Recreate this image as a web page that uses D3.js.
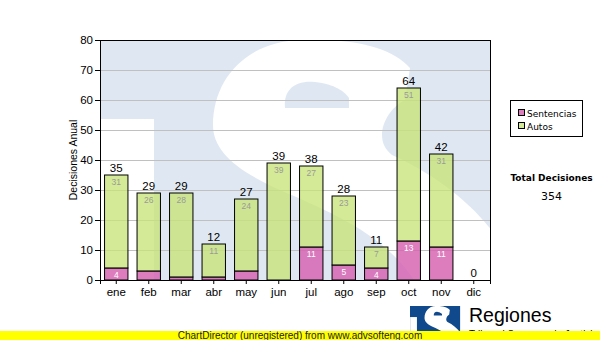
<!DOCTYPE html>
<html><head><meta charset="utf-8">
<script src="https://cdn.jsdelivr.net/npm/d3@7"></script>
<style>body{margin:0;background:#fff;}svg{display:block;}</style>
</head><body>
<svg id="chart" width="600" height="340"></svg>
<script>
const months = ["ene","feb","mar","abr","may","jun","jul","ago","sep","oct","nov","dic"];
const sentencias = [4,3,1,1,3,0,11,5,4,13,11,0];
const autos = [31,26,28,11,24,39,27,23,7,51,31,0];
const yTicks = [0,10,20,30,40,50,60,70,80];
const seriesNames = ["Sentencias","Autos"];
const seriesColors = ["rgba(214,96,176,0.82)","rgba(200,228,120,0.78)"];
const totalLabel = "Total Decisiones";

const svg = d3.select("#chart");
const P = {l:100, r:490, t:40, b:280};

const x = d3.scaleBand().domain(months).range([P.l,P.r]).paddingInner(0.28).paddingOuter(0.14);
const y = d3.scaleLinear().domain([0,80]).range([P.b,P.t]);

// watermark logo shape (defined in plot frame)
const sPath = "M 410 68 C 390 45 345 38 300 40 C 245 42 213 80 213 125 C 213 150 235 170 280 190 C 330 212 390 235 420 290 L 495 290 L 495 235 C 470 200 430 172 392 155 C 372 140 385 110 405 100 Z";
const counterPath = "M 285 108 C 283 90 295 80 315 82 C 335 84 345 92 349 98 L 349 108 Z";
function drawLogo(g, bg, fg) {
  g.append("rect").attr("x",P.l).attr("y",P.t).attr("width",P.r-P.l).attr("height",P.b-P.t).attr("fill",bg);
  g.append("rect").attr("x",101).attr("y",119).attr("width",53).attr("height",P.b-119).attr("fill",fg);
  g.append("path").attr("d",sPath).attr("fill",fg);
  g.append("path").attr("d",counterPath).attr("fill",bg);
}
svg.append("clipPath").attr("id","pc").append("rect").attr("x",P.l).attr("y",P.t).attr("width",P.r-P.l).attr("height",P.b-P.t);
const wm = svg.append("g").attr("clip-path","url(#pc)");
drawLogo(wm, "#dfe8f2", "#ffffff");

// gridlines
svg.append("g").selectAll("line").data(yTicks.filter(v=>v>0&&v<80)).join("line")
  .attr("x1",P.l).attr("x2",P.r).attr("y1",d=>y(d)).attr("y2",d=>y(d))
  .attr("stroke","#c0c0c0").attr("stroke-width",1).attr("shape-rendering","crispEdges");

// bars
const data = months.map((m,i)=>({m, s:sentencias[i], a:autos[i], t:sentencias[i]+autos[i]}));
const bars = svg.append("g");
data.forEach(d=>{
  const bx = x(d.m), bw = x.bandwidth();
  if (d.s>0) bars.append("rect").attr("x",bx).attr("y",y(d.s)).attr("width",bw).attr("height",y(0)-y(d.s))
    .attr("fill",seriesColors[0]).attr("stroke","#000").attr("stroke-width",1);
  if (d.a>0) bars.append("rect").attr("x",bx).attr("y",y(d.t)).attr("width",bw).attr("height",y(d.s)-y(d.t))
    .attr("fill",seriesColors[1]).attr("stroke","#000").attr("stroke-width",1);
});
// inner labels
const lab = svg.append("g").attr("font-family","Liberation Sans, Arial, sans-serif").attr("text-anchor","middle");
data.forEach(d=>{
  const cx = x(d.m)+x.bandwidth()/2;
  if (d.a>0) lab.append("text").attr("x",cx).attr("y",y(d.t)+10).attr("font-size",8.5).attr("fill","#9a9a9a").text(d.a);
  if (d.s>=4) lab.append("text").attr("x",cx).attr("y",y(d.s)+10).attr("font-size",8.5).attr("fill","#ffffff").text(d.s);
  lab.append("text").attr("x",cx).attr("y",y(d.t)-3).attr("font-size",11.5).attr("fill","#000").text(d.t);
});

// plot border
svg.append("rect").attr("x",P.l).attr("y",P.t).attr("width",P.r-P.l).attr("height",P.b-P.t)
  .attr("fill","none").attr("stroke","#000").attr("stroke-width",1).attr("shape-rendering","crispEdges");

// axes
const yAxis = svg.append("g").attr("transform",`translate(${P.l},0)`)
  .call(d3.axisLeft(y).tickValues(yTicks).tickSize(5).tickPadding(2));
const xAxis = svg.append("g").attr("transform",`translate(0,${P.b})`)
  .call(d3.axisBottom(x).tickSize(4).tickPadding(4));
[yAxis,xAxis].forEach(a=>{
  a.selectAll("text").attr("font-family","Liberation Sans, Arial, sans-serif").attr("font-size",11.5).attr("fill","#000");
  a.select(".domain").attr("stroke","#000");
  a.selectAll(".tick line").attr("stroke","#000");
});

svg.append("text").attr("transform","translate(77,160) rotate(-90)").attr("text-anchor","middle")
  .attr("font-family","Liberation Sans, Arial, sans-serif").attr("font-size",10.5).text("Decisiones Anual");

// legend
const lg = svg.append("g");
lg.append("rect").attr("x",510.5).attr("y",100.5).attr("width",72).attr("height",36).attr("fill","#fff").attr("stroke","#000");
seriesNames.forEach((n,i)=>{
  const yy = 109 + i*13;
  lg.append("rect").attr("x",518.5).attr("y",yy+0.5).attr("width",6).attr("height",6).attr("fill",seriesColors[i]).attr("stroke","#000");
  lg.append("text").attr("x",527).attr("y",yy+7.5).attr("font-family","DejaVu Sans, sans-serif").attr("font-size",9).text(n);
});

// total
const total = d3.sum(sentencias)+d3.sum(autos);
svg.append("text").attr("x",551.5).attr("y",181).attr("text-anchor","middle").attr("font-family","DejaVu Sans, sans-serif")
  .attr("font-size",9).attr("font-weight","bold").text(totalLabel);
svg.append("text").attr("x",551.5).attr("y",200).attr("text-anchor","middle").attr("font-family","DejaVu Sans, sans-serif")
  .attr("font-size",11).text(total);

// small logo
const sl = svg.append("g").attr("transform","translate(410,306) scale(0.1285,0.14) translate(-100,-40)");
drawLogo(sl, "#10498c", "#ffffff");
svg.append("text").attr("x",469).attr("y",322).attr("font-family","Liberation Sans, Arial, sans-serif").attr("font-size",19.5).text("Regiones");
svg.append("text").attr("x",469).attr("y",338).attr("font-family","Liberation Sans, Arial, sans-serif").attr("font-size",10).text("Tribunal Supremo de Justicia");

// footer
svg.append("rect").attr("x",0).attr("y",331).attr("width",600).attr("height",9).attr("fill","#ffff00");
svg.append("text").attr("x",300).attr("y",339).attr("text-anchor","middle").attr("font-family","Liberation Sans, Arial, sans-serif")
  .attr("font-size",10).attr("fill","#222").text("ChartDirector (unregistered) from www.advsofteng.com");
</script>
</body></html>
